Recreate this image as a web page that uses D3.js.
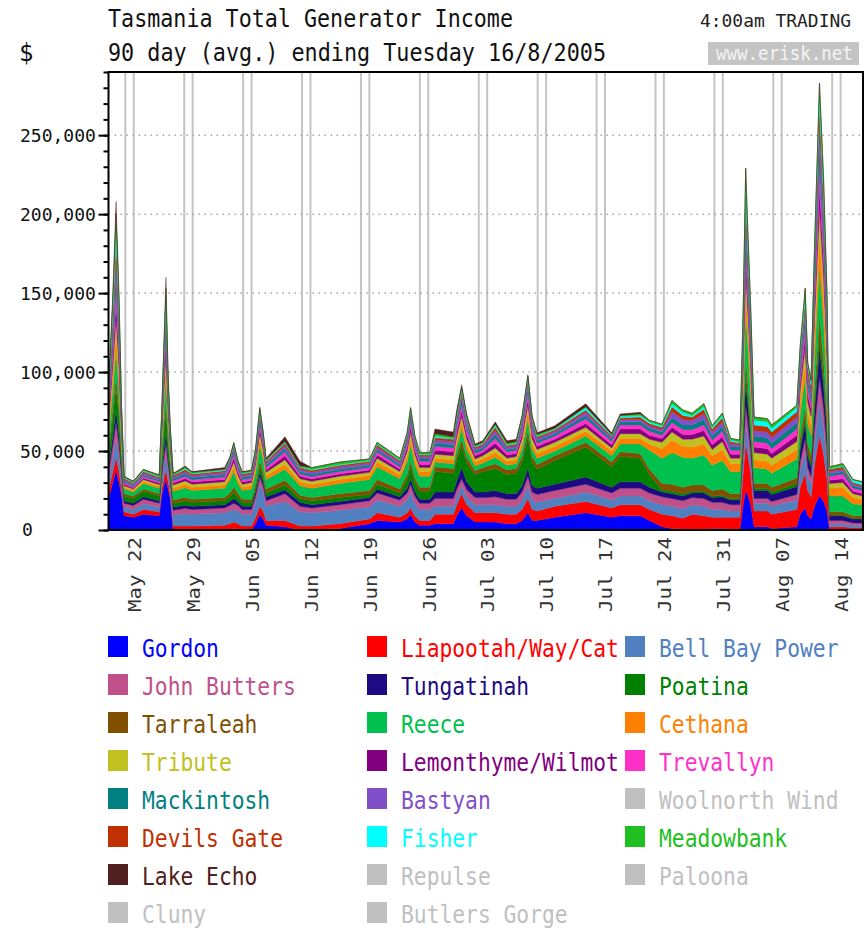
<!DOCTYPE html>
<html>
<head>
<meta charset="utf-8">
<script src="https://d3js.org/d3.v7.min.js"></script>
<style>
  body { margin: 0; background: #fff; }
  text { font-family: "DejaVu Sans Mono", monospace; }
</style>
</head>
<body>
<div id="chart"></div>
<script>
var svgWidth = 866;
var svgHeight = 930;
var plot = { left: 108.5, right: 863, top: 72, bottom: 530 };

// sample times, in days since 19 May 2005 00:00
var dayOffsets = [0, 0.51, 0.90, 1.25, 1.55, 1.85, 2.95, 4.14, 6.03, 6.33, 6.58, 6.83, 7.08, 7.33, 7.68, 9.12, 9.92,
  13.8, 14.40, 14.89, 15.39, 15.89, 16.99, 17.48, 17.98, 18.38, 18.73, 20.97, 22.76, 24.15, 27.44, 31.02, 31.92,
  34.61, 35.50, 35.90, 36.40, 36.97, 38.19, 38.79, 40.98, 41.38, 41.97, 42.57, 43.57, 44.46, 45.96, 47.35, 48.45,
  49.14, 49.84, 50.34, 50.93, 53.03, 56.71, 59.80, 60.79, 63.18, 64.28, 65.77, 66.96, 68.26, 69.35, 70.75, 71.74,
  72.94, 73.93, 75.03, 75.42, 75.72, 75.97, 76.32, 76.72, 78.31, 78.81, 81.80, 82.19, 82.79, 83.09, 83.49, 83.89,
  84.49, 84.98, 85.38, 85.68, 87.27, 88.47, 89.66];

// generator income, thousands of $
var gordon = [20, 30, 38, 30, 22, 9, 8, 10, 9, 22, 28, 32, 26, 20, 0, 0, 0,
  0, 0.5, 1, 0.5, 0, 0, 4, 10, 7, 3, 2, 0, 0, 1, 4, 6,
  5, 7, 10, 5, 3, 3, 4, 4, 9, 14, 9, 5, 5, 5, 4, 4,
  6, 11, 6, 6, 8, 11, 8, 9, 9, 6, 2, 1, 0.5, 0, 0, 1,
  1, 0, 0, 16, 25, 22, 16, 2, 2, 1, 2, 10, 14, 9, 7, 15,
  22, 18, 12, 0, 0, 0, 0];
var liapootah = [5, 7, 8, 7, 4, 2.5, 2, 3, 2.5, 4, 5, 6, 5, 3, 2.5, 2.5, 2.5,
  3, 3.5, 4, 3.5, 2.5, 2.5, 4, 5, 5, 3, 4, 2.5, 2.5, 3, 3, 5,
  3, 4, 4, 4, 3, 3, 6, 6, 7, 9, 7, 6, 6, 6, 6, 6,
  7, 9, 7, 6, 7, 7, 6, 7, 7, 7, 8, 8, 7, 10, 9, 7,
  7, 8, 8, 20, 30, 26, 20, 10, 10, 9, 11, 17, 22, 16, 14, 26,
  38, 30, 20, 2, 2, 1.5, 1.5];
var bellBay = [6, 9, 12, 9, 5, 3, 3, 3.5, 3, 5, 7, 9, 6, 5, 7, 8, 7.5,
  8, 8, 8, 8, 7.5, 7.5, 10, 14, 12, 9, 12, 9, 8.5, 8.5, 7.5, 8,
  7, 8, 10, 8, 7, 7, 5, 5, 5, 5, 5, 5, 5, 5, 5, 5,
  6, 8, 6, 5.5, 5, 6, 5, 5.5, 5.5, 5.5, 6, 6, 6, 6, 6, 5,
  5, 4, 4, 7, 12, 10, 7, 5, 5, 5, 6, 10, 14, 9, 8, 14,
  22, 17, 12, 2, 2, 1.5, 1.5];
var johnButters = [5, 8, 10, 8, 5, 2.5, 2.5, 3, 2.5, 4, 6, 8, 5, 4, 3, 3.2, 3,
  3, 3.5, 4, 3.5, 3, 3, 3.5, 4.5, 4, 3.5, 5, 3.5, 3, 3.5, 4, 4.5,
  4, 4.5, 5, 4.5, 4, 4, 5, 5, 5, 4.5, 4.5, 4.5, 4.5, 5, 4.5, 4.5,
  5, 6, 5, 5, 5, 5, 4.5, 5, 5, 5, 5, 5, 5, 4.5, 5, 4.5,
  4.5, 4, 4, 7, 12, 10, 7, 3, 3, 3, 3.5, 6, 8, 5.5, 5, 9,
  15, 12, 8, 2, 2, 1.5, 1.5];
var tungatinah = [4, 6, 8, 6, 3, 1.5, 1.5, 1.5, 1.5, 3, 5, 7, 4, 3, 2, 2, 2,
  2, 2.5, 3, 2.5, 2, 2, 2.5, 3, 2.5, 2.5, 2.5, 2.5, 2, 2, 2, 2.5,
  2, 3, 3.5, 3, 2.5, 2.5, 4, 4, 5, 7, 5, 3.5, 3.5, 4, 3.5, 3.5,
  4, 5, 4, 4, 4, 4.5, 3.5, 4, 4, 3.5, 3, 3, 3, 3, 3.5, 3,
  3.5, 3, 3, 8, 14, 12, 8, 5, 5, 4.5, 5, 8, 10, 7, 6, 11,
  18, 14, 10, 3, 3, 2.5, 2.5];
var poatina = [7, 11, 14, 11, 6, 3, 3, 3.5, 3, 6, 10, 13, 8, 5, 2.5, 2.8, 2.5,
  2.5, 3, 4, 3, 2.5, 2.5, 3, 4, 3.5, 2.5, 3, 2.5, 2.5, 2.5, 2, 3,
  2.5, 6, 8, 6, 5, 5, 13, 12, 13, 14, 12, 11, 13, 14, 12, 13,
  15, 20, 15, 12, 15, 19, 13, 16, 15, 8, 1.5, 1.5, 1.5, 1, 1, 1,
  1, 1, 1, 3, 6, 5, 3, 1.5, 1.5, 1.5, 2, 3, 4, 3, 3, 5,
  8, 6, 4, 0.5, 0.5, 0.5, 0.5];
var tarraleah = [4, 6, 8, 6, 3, 1.5, 1.5, 1.5, 1.5, 3, 5, 7, 4, 3, 2, 2.2, 2,
  2, 2.5, 3, 2.5, 2, 2, 2.5, 3.5, 3, 2.5, 3, 2, 2, 2.5, 2.5, 3,
  2.5, 3, 3.5, 3, 2.5, 2.5, 3, 3, 3.5, 4, 3.5, 2.5, 2.5, 3, 3, 3,
  3.5, 4.5, 3.5, 3, 3, 3, 3, 3, 3, 3.5, 4, 4.5, 4, 4, 4, 3.5,
  4, 3, 3, 6, 10, 8, 6, 3, 3, 3, 3.5, 5, 7, 5, 4.5, 8,
  13, 10, 7, 2, 2, 1.5, 1.5];
var reece = [8, 12, 16, 12, 7, 3, 2.5, 3.5, 3.5, 8, 12, 15, 10, 7, 5.5, 6, 5.5,
  6, 8, 10, 6, 5.5, 6.5, 7, 10, 8, 6, 7, 6, 6, 6.5, 7, 8,
  6.5, 8, 10, 8, 7, 7, 3, 3, 5, 7, 5, 3, 3, 4, 3, 3,
  5, 7, 5, 4, 3, 4, 4, 5, 6, 12, 16, 20, 19, 17, 19, 16,
  18, 14, 14, 19, 30, 25, 19, 10, 9, 9, 12, 14, 18, 13, 12, 21,
  31, 25, 17, 10, 10, 7.5, 7];
var cethana = [4, 7, 10, 7, 3, 1, 1, 1.2, 1.2, 3, 5, 7, 4, 2, 2, 2.2, 2,
  2, 2.5, 3, 2.5, 2, 2, 2.5, 3.5, 3, 2.5, 3, 2.5, 2.3, 2.5, 2.5, 3,
  2.5, 3.5, 4, 3.5, 3, 3, 2.5, 2.5, 3.5, 4, 3.5, 2.5, 2.5, 3, 2.5, 2.5,
  3.5, 4.5, 3.5, 3, 3, 3, 3, 3.5, 3.5, 4, 6, 8, 7, 7, 7, 6,
  7, 5, 5, 8, 12, 10, 8, 5, 5, 5, 6, 8, 10, 7, 6.5, 12,
  19, 15, 10, 5, 5.5, 4, 3.5];
var tribute = [4, 7, 10, 7, 3, 1, 1, 1.2, 1, 3, 5, 7, 4, 2, 2, 2.2, 2,
  2, 2.5, 3, 2.5, 2, 2, 2.5, 3.5, 3, 2, 3, 2, 2, 2, 2, 2.5,
  2, 3, 4, 3, 2.5, 2.5, 2.5, 2.5, 3, 3.5, 3, 2, 2, 3, 2, 2,
  3, 4, 3, 2.5, 2.5, 2.5, 2, 3, 3, 3, 4, 5, 4.5, 5, 5, 4,
  5, 3.5, 3.5, 8, 12, 10, 8, 4.5, 4.5, 4.5, 5, 7, 9, 6.5, 6, 11,
  17, 13, 9, 3, 3, 2.5, 2];
var lemonthyme = [4, 7, 10, 7, 3, 1, 0.8, 1, 1, 3, 5, 7, 4, 2, 1.3, 1.5, 1.4,
  1.5, 2, 2.5, 2, 1.4, 1.4, 2, 3, 2.5, 1.5, 2.5, 1.5, 1.5, 1.5, 1.5, 2,
  1.5, 2.5, 3.5, 2.5, 2, 2, 2.5, 2.5, 3, 3.5, 3, 2, 2, 3, 2, 2,
  3, 4, 3, 2, 2, 2.5, 2, 3, 3, 2.5, 2.5, 3, 3, 3, 3.5, 3,
  3, 2.5, 2.5, 6, 10, 8, 6, 3.5, 3.5, 3, 4, 5, 7, 5, 4.5, 8,
  13, 10, 7, 2, 2.5, 1.5, 1.5];
var trevallyn = [3, 6, 9, 6, 3, 1, 0.8, 1, 1, 3, 5, 7, 4, 2, 1.3, 1.5, 1.4,
  1.5, 2, 2.5, 2, 1.4, 1.4, 2, 3, 2.5, 1.5, 2.5, 1.5, 1.5, 1.5, 1.5, 2,
  1.5, 2.5, 3, 2.5, 2, 2, 2.5, 2.5, 3, 3.5, 3, 1.5, 1.5, 3, 2, 2,
  3, 4, 3, 2, 2, 3, 2, 2.5, 2.5, 2.5, 2, 3, 3, 3, 3.5, 3,
  3.5, 2.5, 2.5, 6, 10, 8, 6, 3.5, 3.5, 3, 4, 5, 7, 4.5, 4, 9,
  14, 11, 8, 2.5, 3, 2, 2];
var mackintosh = [3, 6, 9, 6, 3, 1, 0.8, 1, 1, 2, 4, 6, 3, 2, 1.3, 1.5, 1.4,
  1.5, 1.5, 2, 1.5, 1.4, 1.4, 1.5, 2.5, 2, 1.5, 2, 1.5, 1.5, 1.5, 1.5, 1.5,
  1.5, 2, 2.5, 2, 1.5, 1.5, 2, 2, 2.5, 3, 2.5, 1.5, 1.5, 2.5, 1.5, 1.5,
  2.5, 3, 2.5, 1.5, 1.5, 2, 1.5, 2, 2, 2, 2, 3, 3, 3, 3.5, 2.5,
  3, 2, 2, 6, 10, 8, 6, 3.5, 3.5, 3.5, 4, 5, 6, 4.5, 4, 8,
  13, 10, 7, 1.5, 1.5, 1.5, 1.5];
var bastyan = [4, 7, 10, 7, 3, 1, 0.8, 1.2, 1, 2, 4, 6, 3, 2, 1.2, 1.5, 1.3,
  1.5, 1.5, 2, 1.5, 1.3, 1.3, 1.5, 2.5, 1.5, 1.5, 2, 1.5, 1.5, 1.5, 1.5, 1.5,
  1.5, 2, 2.5, 2, 1.5, 1.5, 2, 2, 2.5, 3, 2.5, 1.5, 1.5, 2.5, 1.5, 1.5,
  2, 3, 2, 1.5, 1.5, 2, 1, 1.5, 1.5, 1.5, 1.5, 4, 3.5, 3, 3.5, 2.5,
  3, 2, 1.5, 5, 9, 7, 5, 3.5, 3.5, 3.5, 3.5, 4, 5, 4, 3.5, 7,
  12, 9, 6, 1.5, 1.5, 1, 1];
var devilsGate = [4, 8, 12, 8, 3, 0.8, 0.6, 1, 0.8, 2, 4, 6, 3, 2, 1, 1.2, 1,
  1, 1, 1.5, 1, 1, 1, 1.5, 2.5, 1.5, 1, 1.5, 1, 1, 1, 1, 1.5,
  1, 1.5, 2, 1.5, 1, 1, 1.5, 1.5, 2, 2.5, 2, 1, 1, 2, 1, 1,
  1.5, 2.5, 1.5, 1, 1, 1.5, 1, 1, 1.5, 1.5, 1.5, 3, 2.5, 2, 3, 2,
  2.5, 1.5, 1, 6, 10, 8, 6, 3.5, 3.5, 3.5, 3.5, 4, 5, 4, 3.5, 7,
  13, 10, 6, 1.5, 1.5, 1, 1];
var fisher = [2, 4, 8, 4, 1, 0.3, 0.3, 0.4, 0.3, 1, 3, 5, 2, 1, 0.4, 0.6, 0.4,
  0.5, 0.5, 1, 0.5, 0.4, 0.4, 0.5, 1.5, 0.5, 0.5, 0.5, 0.5, 0.5, 0.5, 0.5, 0.5,
  0.5, 0.5, 1, 0.5, 0.5, 0.5, 1, 0.5, 1, 1.5, 1, 0.5, 0.5, 1, 0.5, 0.5,
  1, 1.5, 1, 0.5, 0.5, 1.5, 0.5, 1, 1, 1, 1, 2, 2, 1, 1.5, 1,
  1.5, 1, 0.5, 4, 8, 6, 4, 3, 3, 2.5, 2.5, 3, 4, 2, 2, 4,
  8, 6, 4, 0.5, 0.5, 1.5, 1.5];
var meadowbank = [2, 5, 8, 5, 1, 0.6, 0.6, 0.7, 0.8, 1, 3, 5, 3, 1, 0.5, 1, 0.6,
  0.5, 0.5, 0.5, 0.5, 0.6, 0.6, 1, 1, 0.5, 0.5, 0.5, 0.5, 1.2, 1.5, 1, 1,
  1, 1, 1, 1, 1, 1, 1.5, 1, 1, 1, 0.5, 0.5, 0.5, 1, 1, 1,
  0.5, 0.5, 0.5, 1, 0.5, 0.5, 0.5, 0.5, 1, 1, 1, 2, 1.5, 1.5, 2, 1,
  1.5, 1, 1.5, 5, 9, 7, 5, 2, 2, 2, 1.5, 2, 3, 1, 1.5, 2,
  7, 6, 3, 1, 1.5, 0.5, 0.5];
var lakeEcho = [1, 4, 8, 4, 0, 0.3, 0.3, 0.3, 0.4, 1, 2, 7, 2, 0, 0.5, 0.6, 0.5,
  1, 0.5, 0.5, 0.5, 0.5, 0.5, 0.5, 1, 0.5, 1, 3, 3, 0, 0, 0, 0,
  0, 0, 0, 0, 0, 0, 3, 3, 2, 2, 1.5, 1, 1, 1.5, 1.5, 1.5,
  1, 1, 1, 1, 1.5, 2, 1, 1, 1, 0, 0, 0, 0, 0, 0, 0,
  0, 0, 0, 0, 0, 0, 0, 0, 0, 0, 0, 0, 0, 0, 0, 0,
  0, 0, 0, 0, 0, 0, 0];

// legend order (also stacking order); null = no income in the period
var seriesNames = ["Gordon", "Liapootah/Way/Cat", "Bell Bay Power", "John Butters", "Tungatinah", "Poatina",
  "Tarraleah", "Reece", "Cethana", "Tribute", "Lemonthyme/Wilmot", "Trevallyn", "Mackintosh", "Bastyan",
  "Woolnorth Wind", "Devils Gate", "Fisher", "Meadowbank", "Lake Echo", "Repulse", "Paloona", "Cluny", "Butlers Gorge"];
var seriesValues = [gordon, liapootah, bellBay, johnButters, tungatinah, poatina,
  tarraleah, reece, cethana, tribute, lemonthyme, trevallyn, mackintosh, bastyan,
  null, devilsGate, fisher, meadowbank, lakeEcho, null, null, null, null];
var seriesColors = ["#0000ff", "#ff0000", "#5080c0", "#c0508a", "#1e0a82", "#008000",
  "#805000", "#00c050", "#ff8000", "#c0c020", "#800080", "#ff30c8", "#008080", "#8050c8",
  "#c0c0c0", "#c03000", "#00ffff", "#20c020", "#502020", "#c0c0c0", "#c0c0c0", "#c0c0c0", "#c0c0c0"];

var yTickValues = [0, 50000, 100000, 150000, 200000, 250000];

var svg = d3.select("#chart")
  .append("svg")
  .attr("width", svgWidth)
  .attr("height", svgHeight)
  .style("display", "block")
  .style("background", "#fff");

var startDate = new Date(2005, 4, 19);
var endDate = d3.timeMinute.offset(startDate, Math.round(dayOffsets[dayOffsets.length - 1] * 1440));

var x = d3.scaleTime().domain([startDate, endDate]).range([plot.left, plot.right]);
var y = d3.scaleLinear().domain([0, 290000]).range([plot.bottom, plot.top]);

// build table for the stack
var activeKeys = seriesNames.filter((n, i) => seriesValues[i]);
var rows = dayOffsets.map(function(d, j) {
  var row = { date: d3.timeMinute.offset(startDate, Math.round(d * 1440)) };
  seriesNames.forEach(function(n, i) {
    if (seriesValues[i]) row[n] = seriesValues[i][j] * 1000;
  });
  return row;
});

// weekend grid lines (Saturday + Sunday)
var gridGroup = svg.append("g");
var weekendDays = d3.timeSaturday.range(startDate, endDate).concat(d3.timeSunday.range(startDate, endDate));
gridGroup.selectAll("line.wk")
  .data(weekendDays)
  .enter()
  .append("line")
  .attr("x1", d => x(d)).attr("x2", d => x(d))
  .attr("y1", plot.top).attr("y2", plot.bottom)
  .attr("stroke", "#c4c4c4")
  .attr("stroke-width", 2);

gridGroup.selectAll("line.hz")
  .data(yTickValues.slice(1))
  .enter()
  .append("line")
  .attr("x1", plot.left).attr("x2", plot.right)
  .attr("y1", d => y(d)).attr("y2", d => y(d))
  .attr("stroke", "#a8a8a8")
  .attr("stroke-width", 1.5)
  .attr("stroke-dasharray", "1.5,4.5");

// stacked areas
var stack = d3.stack().keys(activeKeys);
var layers = stack(rows);
var area = d3.area()
  .x(d => x(d.data.date))
  .y0(d => y(d[0]))
  .y1(d => y(d[1]));

svg.append("g")
  .selectAll("path")
  .data(layers)
  .enter()
  .append("path")
  .attr("d", area)
  .attr("fill", d => seriesColors[seriesNames.indexOf(d.key)])
  .attr("stroke", d => seriesColors[seriesNames.indexOf(d.key)])
  .attr("stroke-width", 0.4);

// frame
svg.append("rect")
  .attr("x", plot.left).attr("y", plot.top)
  .attr("width", plot.right - plot.left).attr("height", plot.bottom - plot.top)
  .attr("fill", "none")
  .attr("stroke", "#000")
  .attr("stroke-width", 2);

// y axis ticks: minor every 10,000, major every 50,000
svg.append("g")
  .attr("transform", `translate(${plot.left},0)`)
  .call(d3.axisLeft(y).tickValues(d3.range(0, 290001, 10000)).tickSize(5).tickFormat(""));
svg.append("g")
  .attr("transform", `translate(${plot.left},0)`)
  .call(d3.axisLeft(y).tickValues(yTickValues).tickSize(10).tickFormat(""));
svg.selectAll(".domain").remove();
svg.selectAll(".tick line").attr("stroke", "#000").attr("stroke-width", 2);

svg.append("g")
  .selectAll("text")
  .data(yTickValues)
  .enter()
  .append("text")
  .attr("x", d => d === 0 ? 22 : 20)
  .attr("y", d => y(d))
  .attr("dy", "0.36em")
  .attr("font-size", 18)
  .attr("fill", "#111")
  .text(d3.format(","));

// x axis: Sunday labels, rotated
var fmt = d3.timeFormat("%b %d");
var xAxis = svg.append("g")
  .attr("transform", `translate(0,${plot.bottom})`)
  .call(d3.axisBottom(x).tickValues(d3.timeSunday.range(startDate, endDate)).tickSize(0).tickFormat(fmt));
xAxis.select(".domain").remove();
xAxis.selectAll("text")
  .attr("transform", "rotate(-90)")
  .attr("x", -7)
  .attr("y", 0)
  .attr("dy", "0.4em")
  .attr("text-anchor", "end")
  .attr("font-size", 17)
  .attr("font-family", "DejaVu Sans Mono, monospace")
  .attr("fill", "#333")
  .attr("textLength", 75)
  .attr("lengthAdjust", "spacingAndGlyphs");

// titles
svg.append("text").attr("x", 108).attr("y", 27).attr("font-size", 24).attr("fill", "#111")
  .attr("textLength", 405).attr("lengthAdjust", "spacingAndGlyphs")
  .text("Tasmania Total Generator Income");
svg.append("text").attr("x", 108).attr("y", 61).attr("font-size", 24).attr("fill", "#111")
  .attr("textLength", 498).attr("lengthAdjust", "spacingAndGlyphs")
  .text("90 day (avg.) ending Tuesday 16/8/2005");
svg.append("text").attr("x", 19).attr("y", 61).attr("font-size", 24).attr("fill", "#111").text("$");
svg.append("text").attr("x", 700).attr("y", 27).attr("font-size", 18.5).attr("fill", "#222")
  .attr("textLength", 151).attr("lengthAdjust", "spacingAndGlyphs")
  .text("4:00am TRADING");
svg.append("rect").attr("x", 708).attr("y", 42).attr("width", 151).attr("height", 23).attr("fill", "#c4c4c4");
svg.append("text")
  .attr("transform", "translate(716,60) scale(1,1.15)")
  .attr("font-size", 17.5).attr("fill", "#f4f4f4")
  .text("www.erisk.net");

// legend, 3 columns
var legendCols = [108, 367, 625];
var legend = svg.append("g")
  .selectAll("g")
  .data(seriesNames)
  .enter()
  .append("g")
  .attr("transform", (d, i) => `translate(${legendCols[i % 3]},${657 + Math.floor(i / 3) * 38})`);
legend.append("rect")
  .attr("x", 0).attr("y", -21)
  .attr("width", 20).attr("height", 21)
  .attr("fill", (d, i) => seriesColors[i]);
legend.append("text")
  .attr("transform", "translate(34,0) scale(1,1.2)")
  .attr("font-size", 21.3)
  .attr("fill", (d, i) => seriesColors[i])
  .text(d => d);
</script>
</body>
</html>
